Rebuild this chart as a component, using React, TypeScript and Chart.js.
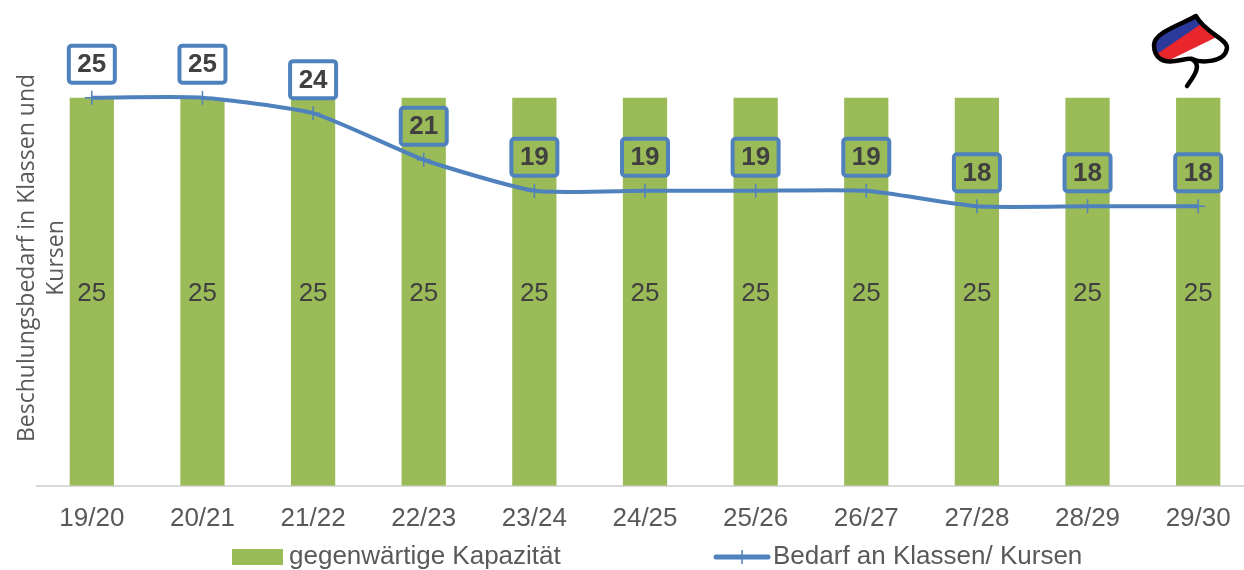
import React, { useEffect, useRef } from 'react';
import { Chart, registerables } from 'chart.js';

Chart.register(...registerables);

const categories = ['19/20', '20/21', '21/22', '22/23', '23/24', '24/25', '25/26', '26/27', '27/28', '28/29', '29/30'];
const capacityValues = [25, 25, 25, 25, 25, 25, 25, 25, 25, 25, 25];
const demandValues = [25, 25, 24, 21, 19, 19, 19, 19, 18, 18, 18];
const capacityLabel = 'gegenwärtige Kapazität';
const demandLabel = 'Bedarf an Klassen/ Kursen';
const yAxisTitleLines = ['Beschulungsbedarf in Klassen und', 'Kursen'];

const GREEN = '#9BBB59';
const BLUE = '#4F81BD';
const TEXT = '#595959';
const DARK = '#404040';
const FONT = '"Liberation Sans", Arial, sans-serif';
const TITLE_FONT = '"Open Sans", "Liberation Sans", sans-serif';

const valueLabelsPlugin = {
  id: 'valueLabels',
  afterDatasetsDraw(chart: any) {
    const ctx = chart.ctx;
    ctx.save();
    ctx.textAlign = 'center';
    ctx.textBaseline = 'middle';
    ctx.fillStyle = DARK;
    ctx.font = `26px ${FONT}`;
    const barMeta = chart.getDatasetMeta(0);
    barMeta.data.forEach((el: any, i: number) => {
      const p = el.getProps(['x', 'y', 'base'], true);
      ctx.fillText(String(capacityValues[i]), p.x, (p.y + p.base) / 2 + 2);
    });
    const lineMeta = chart.getDatasetMeta(1);
    lineMeta.data.forEach((pt: any, i: number) => {
      const cx = pt.x;
      const cy = pt.y - 33.5;
      const w = 50;
      const h = 41;
      ctx.lineWidth = 4;
      ctx.strokeStyle = BLUE;
      ctx.beginPath();
      ctx.roundRect(cx - w / 2 + 2, cy - h / 2 + 2, w - 4, h - 4, 3);
      ctx.stroke();
      ctx.font = `bold 26px ${FONT}`;
      ctx.fillStyle = DARK;
      ctx.fillText(String(demandValues[i]), cx, cy + 1);
    });
    ctx.restore();
  },
};

function drawLogo(ctx: CanvasRenderingContext2D) {
  ctx.save();
  ctx.translate(1145, 5);
  const body = () => {
    ctx.beginPath();
    ctx.moveTo(51, 11);
    ctx.bezierCurveTo(40, 18, 9, 27, 9, 40);
    ctx.bezierCurveTo(9, 53, 18, 58, 30, 56);
    ctx.bezierCurveTo(38, 55, 43, 53, 47, 54);
    ctx.bezierCurveTo(56, 58, 80, 58, 82, 43);
    ctx.bezierCurveTo(83, 34, 60, 28, 51, 11);
    ctx.closePath();
  };
  ctx.save();
  body();
  ctx.clip();
  ctx.fillStyle = '#ffffff';
  ctx.fillRect(0, 0, 90, 90);
  ctx.fillStyle = '#E8262B';
  ctx.beginPath();
  ctx.moveTo(0, -4);
  ctx.lineTo(90, -4);
  ctx.lineTo(90, 23);
  ctx.lineTo(0, 67);
  ctx.closePath();
  ctx.fill();
  ctx.fillStyle = '#2B3A9A';
  ctx.beginPath();
  ctx.moveTo(0, -4);
  ctx.lineTo(90, -4);
  ctx.lineTo(0, 57);
  ctx.closePath();
  ctx.fill();
  ctx.restore();
  ctx.strokeStyle = '#000000';
  ctx.lineWidth = 4.5;
  ctx.lineJoin = 'round';
  body();
  ctx.stroke();
  ctx.lineCap = 'round';
  ctx.lineWidth = 4.5;
  ctx.beginPath();
  ctx.moveTo(47, 54);
  ctx.bezierCurveTo(57, 60, 50, 70, 42, 81);
  ctx.stroke();
  ctx.restore();
}

const decorPlugin = {
  id: 'decor',
  afterDraw(chart: any) {
    const ctx: CanvasRenderingContext2D = chart.ctx;
    ctx.save();
    ctx.fillStyle = TEXT;
    ctx.font = `23px ${TITLE_FONT}`;
    ctx.textAlign = 'center';
    ctx.textBaseline = 'middle';
    const midY = 258;
    const xs = [27, 56];
    yAxisTitleLines.forEach((line, i) => {
      ctx.save();
      ctx.translate(xs[i], midY);
      ctx.rotate(-Math.PI / 2);
      ctx.fillText(line, 0, 0);
      ctx.restore();
    });
    const ly = 557;
    ctx.fillStyle = GREEN;
    ctx.fillRect(232, 549, 51, 16);
    ctx.fillStyle = TEXT;
    ctx.font = `26px ${FONT}`;
    ctx.textAlign = 'left';
    ctx.fillText(chart.data.datasets[0].label, 289, ly);
    ctx.strokeStyle = BLUE;
    ctx.lineWidth = 5;
    ctx.lineCap = 'round';
    ctx.beginPath();
    ctx.moveTo(716, ly);
    ctx.lineTo(768, ly);
    ctx.stroke();
    ctx.lineWidth = 1.5;
    ctx.lineCap = 'butt';
    ctx.beginPath();
    ctx.moveTo(742, ly - 7);
    ctx.lineTo(742, ly + 7);
    ctx.stroke();
    ctx.fillText(chart.data.datasets[1].label, 773, ly);
    ctx.restore();
    drawLogo(ctx);
  },
};

export default function App() {
  const canvasRef = useRef<HTMLCanvasElement | null>(null);

  useEffect(() => {
    if (!canvasRef.current) return;
    const chart = new Chart(canvasRef.current, {
      type: 'bar',
      data: {
        labels: categories,
        datasets: [
          {
            type: 'bar',
            label: capacityLabel,
            data: capacityValues,
            backgroundColor: GREEN,
            barPercentage: 0.4,
            categoryPercentage: 1.0,
            order: 1,
          },
          {
            type: 'line',
            label: demandLabel,
            data: demandValues,
            borderColor: BLUE,
            backgroundColor: BLUE,
            borderWidth: 4,
            tension: 0.18,
            pointStyle: 'cross',
            pointRadius: 7,
            pointBorderWidth: 1.5,
            pointBorderColor: BLUE,
            order: 0,
          } as any,
        ],
      },
      options: {
        responsive: false,
        animation: false,
        devicePixelRatio: 1,
        layout: { padding: { left: 36.5, right: 2.3, top: 20, bottom: 19 } },
        plugins: {
          legend: { display: false },
          tooltip: { enabled: false },
          title: { display: false },
        },
        scales: {
          x: {
            offset: true,
            grid: { display: false, drawTicks: false },
            border: { display: true, color: '#D9D9D9', width: 2 },
            ticks: {
              color: TEXT,
              font: { family: FONT, size: 26 },
              padding: 17,
              autoSkip: false,
              maxRotation: 0,
            },
          },
          y: {
            display: false,
            min: 0,
            max: 30,
          },
        },
      },
      plugins: [valueLabelsPlugin, decorPlugin],
    });
    return () => chart.destroy();
  }, []);

  return (
    <div
      style={{
        position: 'fixed',
        left: 0,
        top: 0,
        width: 1244,
        height: 570,
        overflow: 'hidden',
        background: '#ffffff',
      }}
    >
      <canvas ref={canvasRef} width={1262} height={570} style={{ display: 'block' }} />
    </div>
  );
}
